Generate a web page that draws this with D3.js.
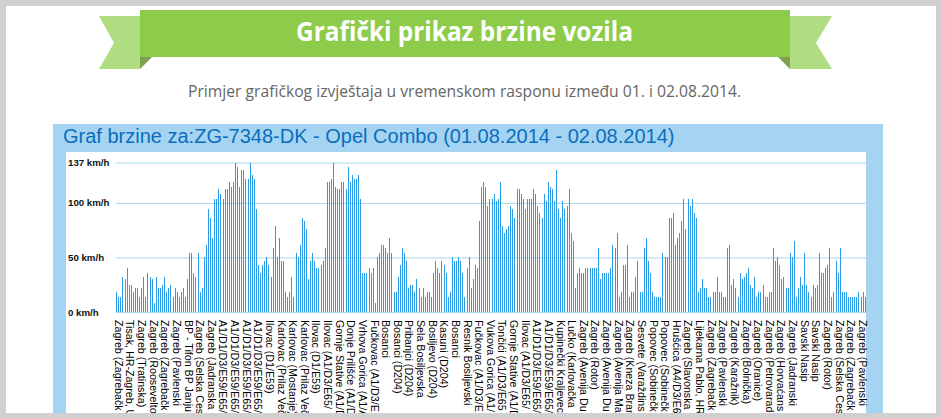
<!DOCTYPE html>
<html>
<head>
<meta charset="utf-8">
<script src="https://cdn.jsdelivr.net/npm/d3@7"></script>
<style>
html, body { margin: 0; padding: 0; background: #d0d0d0; overflow: hidden; }
svg { display: block; }
</style>
</head>
<body>
<div id="chart"></div>
<script>
// values, km/h
const speeds = [
  18,14,14,32,30,40,25,25,18,22,22,14,22,32,14,36,32,30,8,32,22,22,25,32,18,22,25,14,22,18,14,
  18,22,14,30,54,54,36,32,54,18,22,50,61,94,86,68,104,104,113,108,104,113,113,119,115,119,137,133,115,130,130,122,122,137,126,122,94,
  43,36,43,47,50,43,32,59,79,50,68,47,47,18,14,18,32,14,54,50,61,86,83,76,30,47,54,47,40,40,43,47,59,
  119,119,122,137,115,113,113,119,119,113,133,119,126,122,122,126,104,36,36,36,40,36,40,8,50,54,61,61,59,54,68,54,
  18,18,32,43,59,54,47,22,25,25,18,30,22,14,22,14,18,18,14,36,47,40,36,47,43,36,14,18,50,47,47,50,47,36,14,40,50,22,30,43,40,83,
  115,119,115,97,104,104,108,102,104,119,79,72,76,79,97,94,86,113,113,108,104,94,104,104,104,113,108,97,91,86,108,102,119,115,113,102,130,94,86,102,94,97,113,72,65,
  22,36,40,36,36,40,40,40,40,40,40,59,30,36,36,36,36,40,61,59,72,14,18,43,43,61,14,18,18,32,47,18,18,59,68,47,36,18,14,14,14,14,54,50,50,86,86,91,61,68,72,83,104,76,104,97,104,91,86,
  18,22,30,22,22,14,14,18,18,32,18,18,14,14,59,61,25,30,22,14,36,30,32,36,40,25,22,32,14,18,18,25,14,14,18,18,59,47,50,43,30,32,22,22,54,50,65,14,22,32,25,54,25,18,14,25,22,25,54,36,36,40,43,59,
  14,18,47,36,59,18,18,18,14,14,14,14,14,18,14,18,14
];

const yTickValues = [0, 50, 100, 137];

const placeNames = [
  "Zagreb (Zagrebačk", "Tisak, HR-Zagreb, U", "Zagreb (Tratinska)", "Zagreb (Roosevelto", "Zagreb (Zagrebačk",
  "Zagreb (Pavlenski", "BP - Tifon BP Janju", "Zagreb (Selska Ces", "Zagreb (Jadranska", "A1/D1/D3/E59/E65/",
  "A1/D1/D3/E59/E65/", "A1/D1/D3/E59/E65/", "A1/D1/D3/E59/E65/", "Ilovac (D1/E59)", "Karlovac (Prilaz Več",
  "Karlovac (Mostanje)", "Karlovac (Prilaz Več", "Ilovac (D1/E59)", "Ilovac (A1/D3/E65/", "Gornje Stative (A1/D",
  "Donje Prilišće (A1/D", "Vrhova Gorica (A1/A", "Fučkovac (A1/D3/E", "Bosanci", "Bosanci (D204)",
  "Pribanjci (D204)", "Sela Bosiljevska", "Bosiljevo (D204)", "Kasuni (D204)", "Bosanci",
  "Resnik Bosiljevski", "Fučkovac (A1/D3/E", "Vukova Gorica (A1/", "Tončići (A1/D3/E65", "Gornje Stative (A1/D",
  "Ilovac (A1/D3/E65/", "A1/D1/D3/E59/E65/", "A1/D1/D3/E59/E65/", "Kupinečki Kraljevec", "Lučko (Karlovačka",
  "Zagreb (Avenija Du", "Zagreb (Rotor)", "Zagreb (Avenija Du", "Zagreb (Avenija Ma", "Zagreb (Kneza Bran",
  "Sesvete (Varaždins", "Popovec (Sobinečk", "Popovec (Sobinečk", "Hrušćica (A4/D3/E6", "Zagreb (Slavonska",
  "Lijekarna Pablo, HR", "Zagreb (Zagrebačk", "Zagreb (Pavlenski", "Zagreb (Karažnik)", "Zagreb (Bolnička)",
  "Zagreb (Oranice)", "Zagreb (Petrovarad", "Zagreb (Horvaćans", "Zagreb (Jadranski", "Savski Nasip",
  "Savski Nasip", "Zagreb (Rotor)", "Zagreb (Selska Ces", "Zagreb (Zagrebačk", "Zagreb (Pavlenski"
];

const width = 941, height = 418;

const svg = d3.select("#chart").append("svg")
  .attr("width", width)
  .attr("height", height);

// page sheet and panel
svg.append("rect").attr("x", 6).attr("y", 6).attr("width", 930).attr("height", 407).attr("fill", "#fff");
svg.append("rect").attr("x", 53).attr("y", 124).attr("width", 830).attr("height", 289).attr("fill", "#a5d4f3");
svg.append("rect").attr("x", 66).attr("y", 152).attr("width", 800).attr("height", 261).attr("fill", "#fff");

// ribbon
const ribbon = svg.append("g");
const shape = d3.line();
ribbon.append("path").attr("fill", "#b0dc82")
  .attr("d", shape([[99, 16], [140, 16], [140, 69], [99, 69], [114, 43]]) + "Z");
ribbon.append("path").attr("fill", "#b0dc82")
  .attr("d", shape([[832, 16], [790, 16], [790, 69], [832, 69], [816, 43]]) + "Z");
ribbon.append("rect").attr("x", 140).attr("y", 10).attr("width", 650).attr("height", 47).attr("fill", "#8ccc4a");
ribbon.append("path").attr("fill", "#7fa050")
  .attr("d", shape([[140, 57], [152, 57], [140, 69]]) + "Z");
ribbon.append("path").attr("fill", "#7fa050")
  .attr("d", shape([[790, 57], [778, 57], [790, 69]]) + "Z");

svg.append("text").attr("x", 296).attr("y", 41)
  .attr("textLength", 337)
  .attr("lengthAdjust", "spacingAndGlyphs")
  .attr("fill", "#fff")
  .style("font", "700 26px 'Open Sans'")
  .text("Grafički prikaz brzine vozila");

svg.append("text").attr("x", 188).attr("y", 97)
  .attr("textLength", 553)
  .attr("lengthAdjust", "spacingAndGlyphs")
  .attr("fill", "#666")
  .style("font", "16px 'Open Sans'")
  .text("Primjer grafičkog izvještaja u vremenskom rasponu između 01. i 02.08.2014.");

svg.append("text").attr("x", 63).attr("y", 143)
  .attr("fill", "#0a6ebd")
  .style("font", "20px 'Liberation Sans'")
  .text("Graf brzine za:ZG-7348-DK - Opel Combo (01.08.2014 - 02.08.2014)");

// scales
const x = d3.scaleBand().domain(d3.range(speeds.length)).range([116, 866]).paddingInner(0.5).paddingOuter(0.1);
const y = d3.scaleLinear().domain([0, 137]).range([312, 162.5]);
const xLabels = d3.scalePoint().domain(d3.range(placeNames.length)).range([118, 862]);

// grid and y labels
const yAxis = d3.axisLeft(y)
  .tickValues(yTickValues)
  .tickSize(-750)
  .tickFormat(d => d + " km/h");
const yG = svg.append("g").attr("transform", "translate(116,0)").call(yAxis);
yG.select(".domain").remove();
yG.selectAll("line").attr("stroke", "#a8d8e6").attr("stroke-width", 1);
yG.selectAll("text")
  .attr("x", -48)
  .attr("text-anchor", "start")
  .attr("fill", "#111")
  .style("font", "bold 9.7px 'Liberation Sans'");

// bars
svg.append("g").attr("shape-rendering", "crispEdges").selectAll("rect")
  .data(speeds)
  .join("rect")
  .attr("x", (d, i) => x(i))
  .attr("y", d => y(d))
  .attr("width", 1)
  .attr("height", d => y(0) - y(d))
  .attr("fill", "#2a9be6");

// place labels, rotated and running down to the bottom of the panel
const xAxis = d3.axisBottom(xLabels)
  .tickSize(0)
  .tickFormat(i => placeNames[i]);
const xG = svg.append("g").attr("transform", "translate(0,312)").call(xAxis);
xG.select(".domain").remove();
xG.selectAll("text")
  .attr("transform", "rotate(90)")
  .attr("x", 8)
  .attr("y", 0)
  .attr("dy", "0.35em")
  .attr("text-anchor", "start")
  .attr("fill", "#000")
  .style("font", "10.67px 'Liberation Sans'");

// grey frame along the bottom
svg.append("rect").attr("x", 0).attr("y", 413).attr("width", width).attr("height", 5).attr("fill", "#d0d0d0");
</script>
</body>
</html>
